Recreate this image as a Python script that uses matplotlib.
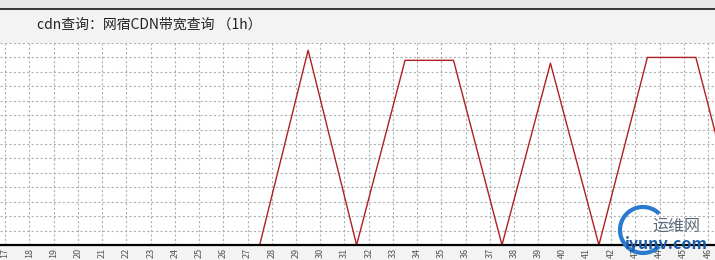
import matplotlib
matplotlib.use("Agg")
import matplotlib.pyplot as plt
from matplotlib.patches import Rectangle, Arc

plt.rcParams['font.family'] = ['Noto Sans CJK SC', 'DejaVu Sans']

# bandwidth samples (every 2h, on the half hour)
hours = [15.5, 17.5, 19.5, 21.5, 23.5, 25.5, 27.5, 29.5, 31.5,
         33.5, 35.5, 37.5, 39.5, 41.5, 43.5, 45.5, 47.5]
bandwidth = [0, 0, 0, 0, 0, 0, 0, 135, 0,
             128, 128, 0, 126, 0, 130, 130, 0]
tick_hours = list(range(17, 47))
tick_labels = [str(h) for h in tick_hours]
title = "cdn查询：网宿CDN带宽查询 （1h）"

W, H = 715, 260
fig = plt.figure(figsize=(W / 100, H / 100), dpi=100)
fig.patch.set_facecolor('#f3f3f3')

# header bands
fig.patches.append(Rectangle((0, 1 - 8 / H), 1, 8 / H, transform=fig.transFigure,
                             facecolor='#e9e9e9', edgecolor='none', zorder=0))
fig.patches.append(Rectangle((0, 1 - 9.5 / H), 1, 1.5 / H, transform=fig.transFigure,
                             facecolor='#3a3a3a', edgecolor='none', zorder=1))
fig.text(37 / W, 1 - 25 / H, title, fontsize=10, color='#222222',
         va='center', ha='left')

ax = fig.add_axes([0, 15 / H, 1, 202 / H])
ax.set_facecolor('white')
ax.plot(hours, bandwidth, color='#b02020', linewidth=1.0, zorder=2)

ax.set_xlim(16.785, 46.29)
ax.set_ylim(0, 140)
ax.set_xticks(tick_hours)
ax.set_xticklabels(tick_labels, rotation=90, fontsize=6.5, color='#555555')
ax.set_yticks(range(0, 141, 10))
ax.tick_params(axis='x', length=0, pad=2)
ax.tick_params(axis='y', length=0, labelleft=False)
ax.grid(True, color='#b0b0b0', linestyle=(0, (2, 2)), linewidth=0.8)

for side in ['left', 'right', 'top']:
    ax.spines[side].set_visible(False)
ax.spines['bottom'].set_color('black')
ax.spines['bottom'].set_linewidth(1.6)
ax.spines['bottom'].set_zorder(5)

# watermark
fig.patches.append(Arc((643 / W, 1 - 230 / H), 46 / W, 46 / H, angle=0,
                       theta1=70, theta2=290, transform=fig.transFigure,
                       color='#2a7bd0', linewidth=3, zorder=6))
fig.text(676 / W, 1 - 226 / H, "运维网", fontsize=11.5, color='#5a6a7a',
         ha='center', va='center', zorder=7)
fig.text(666 / W, 1 - 244 / H, "iyunv.com", fontsize=11.5, color='#1a5aa8',
         fontweight='bold', ha='center', va='center', zorder=7)

fig.savefig('out.png', dpi=100)
